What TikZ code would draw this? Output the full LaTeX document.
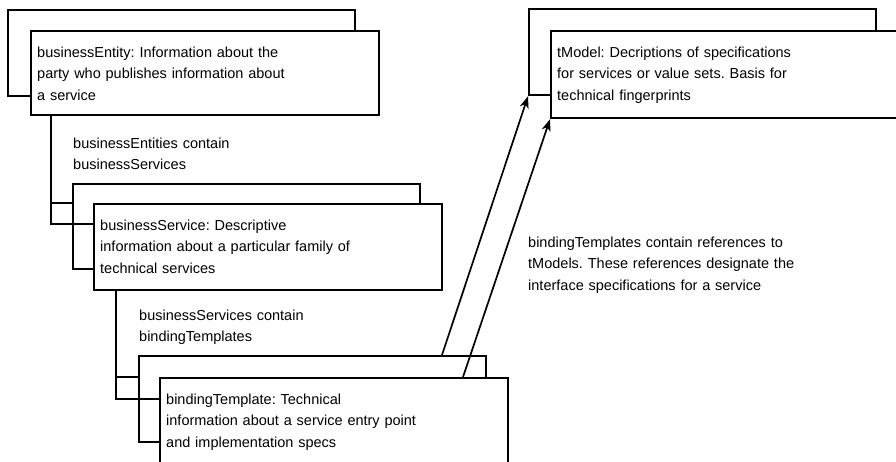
\documentclass[tikz,border=0pt]{standalone}
\usepackage{fontspec}
\setmainfont{Liberation Sans}
\usetikzlibrary{calc,arrows.meta}
\frenchspacing
\begin{document}
\begin{tikzpicture}[x=1pt,y=-1pt,
  box/.style={draw,line width=2.2pt,fill=white,rectangle,inner sep=0pt,anchor=north west},
  backbox/.style={box,minimum width=347pt,minimum height=86pt},
  frontbox/.style={box,minimum width=348pt,minimum height=86pt},
  txt/.style={anchor=base west,inner sep=0pt,text width=340pt,align=left,
    font=\frenchspacing\fontsize{14.5}{21.7}\selectfont},
  link/.style={line width=2.2pt},
  ref/.style={line width=1.7pt,-{Stealth[length=12pt,width=9pt,inset=3.5pt]}}]
\useasboundingbox (0,0) rectangle (896,461);
\clip (0,0) rectangle (896,461);

% businessEntity
\node[backbox] (Eback) at (7,9) {};
\node[frontbox,minimum height=84pt] (Efront) at (30,30) {};
\node[txt] (Etext) at (37,57) {businessEntity: Information about the\\party who publishes information about\\a service};

% businessService
\node[backbox,minimum height=85pt] (Sback) at (72,183) {};
\node[frontbox] (Sfront) at (93,203) {};
\node[txt] (Stext) at (100,230) {businessService: Descriptive\\information about a particular family of\\technical services};

% bindingTemplate
\node[backbox] (Bback) at (138,355) {};
\node[frontbox] (Bfront) at (159,377) {};
\node[txt] (Btext) at (166,404) {bindingTemplate: Technical\\information about a service entry point\\and implementation specs};

% tModel
\node[backbox] (Tback) at (528,8) {};
\node[frontbox,minimum height=87pt] (Tfront) at (550,30) {};
\node[txt] (Ttext) at (557,57) {tModel: Decriptions of specifications\\for services or value sets. Basis for\\technical fingerprints};

% containment connectors
\draw[link] ($(Efront.south west)+(21,0)$) |- ($(Sback.north west)+(0,20)$);
\draw[link] ($(Efront.south west)+(21,0)$) |- ($(Sfront.north west)+(0,21)$);
\draw[link] ($(Sfront.south west)+(23,0)$) |- ($(Bback.north west)+(0,22)$);
\draw[link] ($(Sfront.south west)+(23,0)$) |- ($(Bfront.north west)+(0,22)$);

% reference arrows
\draw[ref] ($(Bback.north west)+(304,0)$) -- (Tback.south west);
\draw[ref] ($(Bfront.north west)+(304,0)$) -- (Tfront.south west);

% labels
\node[txt] (L1) at (73,148) {businessEntities contain\\businessServices};
\node[txt] (L2) at (139,320) {businessServices contain\\bindingTemplates};
\node[txt] (L3) at (528,247) {bindingTemplates contain references to\\tModels. These references designate the\\interface specifications for a service};
\end{tikzpicture}
\end{document}
